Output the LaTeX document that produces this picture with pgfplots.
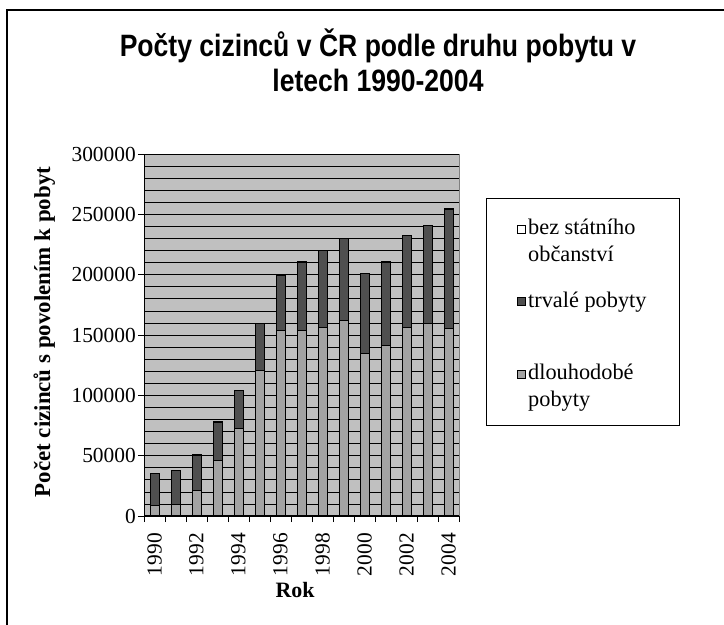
\documentclass[border=0pt]{standalone}
\usepackage{pgfplots}
\usepackage{pgfplotstable}
\pgfplotsset{compat=1.18}
\usepackage{fontspec}
\setmainfont{Liberation Serif}
\newfontfamily\hsans{Liberation Sans}[FakeStretch=0.86]
\definecolor{plotbg}{HTML}{C0C0C0}
\definecolor{darkbar}{HTML}{4F4F4F}
\definecolor{lightbar}{HTML}{A3A3A3}
\pgfplotsset{sqlegend/.style={legend image code/.code={\draw[##1, line width=0.8bp] (1bp,6bp) rectangle (9bp,14bp);}}}

\pgfplotstableread{
x dl tr bez
0 8500 26500 300
1 9700 27800 300
2 21000 29300 300
3 45900 31800 300
4 72100 31800 300
5 120500 38900 300
6 153400 45800 300
7 153400 56900 300
8 156100 63800 300
9 161900 67700 300
10 134600 66000 300
11 141200 69100 300
12 156100 76300 300
13 159400 81000 300
14 155000 99200 300
}\data

\begin{document}
\begin{tikzpicture}
\useasboundingbox (0,0) rectangle (724bp,625bp);
\fill[white] (0,0) rectangle (724bp,625bp);
\draw[line width=1.3bp] (7bp,0) -- (7bp,615bp) -- (724bp,615bp);
\node[anchor=base] at (378bp,568bp) {\hsans\bfseries\fontsize{31}{35}\selectfont Počty cizinců v ČR podle druhu pobytu v};
\node[anchor=base] at (378bp,533bp) {\hsans\bfseries\fontsize{31}{35}\selectfont letech 1990-2004};
\begin{axis}[
  at={(144bp,109bp)}, anchor=south west,
  scale only axis, width=315bp, height=362bp,
  xmin=-0.5, xmax=14.5, ymin=0, ymax=300000,
  ybar stacked, bar width=9bp,
  axis x line*=bottom, axis y line*=left,
  axis line style={black, line width=1bp},
  axis background/.style={fill=plotbg, draw=gray, line width=0.6bp},
  xtick={-0.5,0.5,...,14.5},
  x tick label as interval,
  xticklabels={1990,,1992,,1994,,1996,,1998,,2000,,2002,,2004},
  scaled y ticks=false,
  ytick={0,50000,100000,150000,200000,250000,300000},
  yticklabels={0,50000,100000,150000,200000,250000,300000},
  minor y tick num=4,
  ymajorgrids, yminorgrids,
  major grid style={black, line width=0.7bp},
  minor grid style={black, line width=0.7bp},
  tick align=outside, major tick length=6bp, minor tick length=0pt,
  tick style={black, line width=0.8bp},
  yticklabel style={font=\fontsize{21.5}{22}\selectfont, inner sep=2bp},
  xticklabel shift=9bp,
  xticklabel style={font=\fontsize{21.5}{22}\selectfont, rotate=90, anchor=east, inner sep=2bp},
  sqlegend,
  reverse legend,
  legend style={at={(1.0857,0.8785)}, anchor=north west, draw=black, line width=0.8bp, fill=white,
    font=\fontsize{22.4}{27}\selectfont, cells={anchor=west, align=left},
    inner xsep=31bp, inner ysep=15bp, row sep=21.6bp},
]
\addplot[fill=lightbar, draw=black, line width=1bp] table[x=x, y=dl] {\data};
\addlegendentry{\strut dlouhodobé\\\strut pobyty}
\addplot[fill=darkbar, draw=black, line width=1bp] table[x=x, y=tr] {\data};
\addlegendentry{\strut trvalé pobyty\\\strut}
\addplot[fill=white, draw=black, line width=1bp] table[x=x, y=bez] {\data};
\addlegendentry{\strut bez státního\\\strut občanství}
\end{axis}
\node[anchor=base, rotate=90] at (50bp,293bp) {\bfseries\fontsize{23}{23}\selectfont Počet cizinců s povolením k pobyt};
\node[anchor=base] at (295bp,28bp) {\bfseries\fontsize{22}{22}\selectfont Rok};
\end{tikzpicture}
\end{document}
